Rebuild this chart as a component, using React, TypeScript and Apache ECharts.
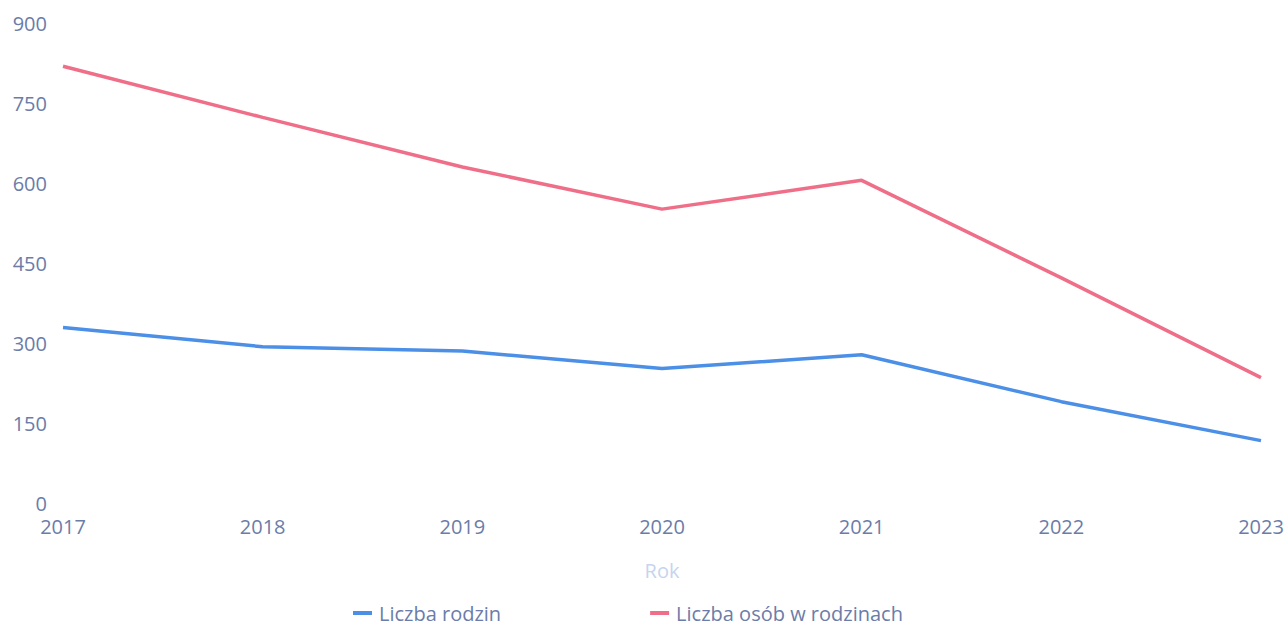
import React, { useEffect, useRef } from "react";
import * as echarts from "echarts";

const years = ["2017", "2018", "2019", "2020", "2021", "2022", "2023"];
const families = [329, 293, 285, 252, 278, 190, 117];
const persons = [819, 723, 630, 551, 605, 422, 235];
const yTicks = { min: 0, max: 900, interval: 150 };

const FONT = "'Open Sans', sans-serif";
const TEXT = "#6b7ca9";

export default function App() {
  const ref = useRef<HTMLDivElement>(null);
  useEffect(() => {
    if (!ref.current) return;
    const chart = echarts.init(ref.current, null, { renderer: "svg" });
    chart.setOption({
      animation: false,
      backgroundColor: "#ffffff",
      textStyle: { fontFamily: FONT },
      grid: { left: 63, right: 26, top: 23, bottom: 124, containLabel: false },
      legend: {
        left: 348,
        top: 597,
        itemGap: 149,
        itemWidth: 19,
        itemHeight: 4,
        icon: "rect",
        textStyle: { color: TEXT, fontSize: 20, lineHeight: 22, fontFamily: FONT, padding: [0, 0, 0, 2] },
        data: ["Liczba rodzin", "Liczba osób w rodzinach"],
      },
      xAxis: {
        type: "category",
        data: years,
        boundaryGap: false,
        name: "Rok",
        nameLocation: "middle",
        nameGap: 57,
        nameTextStyle: { color: "#c6d4ef", fontSize: 20, fontFamily: FONT },
        axisLine: { show: false },
        axisTick: { show: false },
        splitLine: { show: false },
        axisLabel: { color: TEXT, fontSize: 20, fontFamily: FONT, margin: 13, showMinLabel: true, showMaxLabel: true },
      },
      yAxis: {
        type: "value",
        min: yTicks.min,
        max: yTicks.max,
        interval: yTicks.interval,
        axisLine: { show: false },
        axisTick: { show: false },
        splitLine: { show: false },
        axisLabel: { color: TEXT, fontSize: 20, fontFamily: FONT, margin: 16 },
      },
      series: [
        {
          name: "Liczba rodzin",
          type: "line",
          data: families,
          showSymbol: false,
          symbol: "none",
          lineStyle: { color: "#4c8fe6", width: 3.5 },
          itemStyle: { color: "#4c8fe6" },
        },
        {
          name: "Liczba osób w rodzinach",
          type: "line",
          data: persons,
          showSymbol: false,
          symbol: "none",
          lineStyle: { color: "#ef6f89", width: 3.5 },
          itemStyle: { color: "#ef6f89" },
        },
      ],
    });
    return () => chart.dispose();
  }, []);
  return (
    <div
      ref={ref}
      style={{ position: "absolute", left: 0, top: 0, width: 1287, height: 627 }}
    />
  );
}
